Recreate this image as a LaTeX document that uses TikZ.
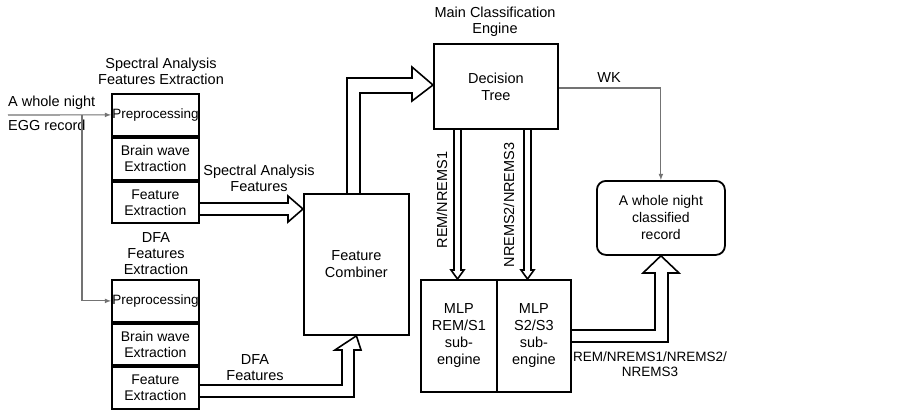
\documentclass[tikz,border=0pt]{standalone}
\usepackage{fontspec}
\setmainfont{Liberation Sans}
\begin{document}
\begin{tikzpicture}[x=1pt,y=-1pt,
  box/.style={draw,line width=1.8pt,inner sep=0pt,align=center},
  blk/.style={draw,line width=1.6pt,line join=miter},
  thin/.style={draw=black!55,line width=1.1pt},
  lbl/.style={font=\fontsize{14.5}{16}\selectfont,align=center,inner sep=0pt}]
\useasboundingbox (0,0) rectangle (902,412);
\fill[white] (0,0) rectangle (902,412);
% top stack
\node[box,minimum width=87pt,minimum height=42pt,anchor=north west,font=\fontsize{13.5}{14}\selectfont] (p1) at (111,93) {Preprocessing};
\node[box,minimum width=87pt,minimum height=42pt,anchor=north west,font=\fontsize{14}{16}\selectfont] (b1) at (111,137) {Brain wave\\Extraction};
\node[box,minimum width=87pt,minimum height=41pt,anchor=north west,font=\fontsize{14}{16}\selectfont] (f1) at (111,181) {Feature\\Extraction};
% bottom stack
\node[box,minimum width=87pt,minimum height=42pt,anchor=north west,font=\fontsize{13.5}{14}\selectfont] (p2) at (111,279) {Preprocessing};
\node[box,minimum width=87pt,minimum height=41pt,anchor=north west,font=\fontsize{14}{16}\selectfont] (b2) at (111,323) {Brain wave\\Extraction};
\node[box,minimum width=87pt,minimum height=42pt,anchor=north west,font=\fontsize{14}{16}\selectfont] (f2) at (111,366) {Feature\\Extraction};
% combiner, tree, MLPs, record
\node[box,minimum width=105pt,minimum height=141pt,anchor=north west,font=\fontsize{14.5}{17}\selectfont] (fc) at (303,193) {Feature\\Combiner};
\node[box,minimum width=124pt,minimum height=85pt,anchor=north west,font=\fontsize{14.5}{17}\selectfont] (dt) at (433,43) {Decision\\Tree};
\node[box,minimum width=76pt,minimum height=112pt,anchor=north west,font=\fontsize{14.5}{17}\selectfont] (m1) at (420,279) {MLP\\REM/S1\\sub-\\engine};
\node[box,minimum width=74pt,minimum height=112pt,anchor=north west,font=\fontsize{14.5}{17}\selectfont] (m2) at (496,279) {MLP\\S2/S3\\sub-\\engine};
\node[box,rounded corners=9pt,minimum width=128pt,minimum height=74pt,anchor=north west,font=\fontsize{14}{17}\selectfont] (rec) at (596,180) {A whole night\\classified\\record};
% titles
\node[lbl] at (161,71) {Spectral Analysis\\Features Extraction};
\node[lbl] at (156,254) {DFA\\Features\\Extraction};
\node[lbl] at (495,22) {Main Classification\\Engine};
\node[lbl] at (259,178) {Spectral Analysis\\Features};
\node[lbl] at (255,368) {DFA\\Features};
\node[lbl,anchor=west] at (8,103) {A whole night};
\node[lbl,anchor=west] at (8,125) {EGG record};
\node[lbl] at (609,78) {WK};
\node[lbl,rotate=90] at (442,200) {REM/NREMS1};
\node[lbl,rotate=90] at (509,205) {NREMS2/NREMS3};
\node[lbl,font=\fontsize{13.5}{15}\selectfont] at (650,364) {REM/NREMS1/NREMS2/\\NREMS3};
% input thin lines
\coordinate (in) at (8,115);
\draw[thin,-latex] (in) -- (p1.west);
\draw[thin,-latex] (82,115) |- (p2.west);
\draw[thin,-latex] (dt.east|-0,88) -| (rec.north);
% block arrows
\draw[blk] (f1.east|-0,203) -- (288,203) -- (288,196) -- (fc.west|-0,209) -- (288,222) -- (288,215) -- (f1.east|-0,215);
\draw[blk] (f2.east|-0,385) -- (342,385) -- (342,350) -- (335,350) -- (fc.south) -- (361,350) -- (354,350) -- (354,397) -- (f2.east|-0,397);
\draw[blk] (347,193) -- (347,78) -- (412,78) -- (412,67) -- (dt.west|-0,85) -- (412,101) -- (412,93) -- (360,93) -- (360,193);
\draw[blk] (454,128) -- (454,270) -- (451,270) -- (457.5,279) -- (464,270) -- (461,270) -- (461,128);
\draw[blk] (524,128) -- (524,270) -- (521,270) -- (527.5,279) -- (534,270) -- (531,270) -- (531,128);
\draw[blk] (570,330) -- (655,330) -- (655,273) -- (643,273) -- (rec.south) -- (679,273) -- (668,273) -- (668,342) -- (570,342);
\end{tikzpicture}
\end{document}
